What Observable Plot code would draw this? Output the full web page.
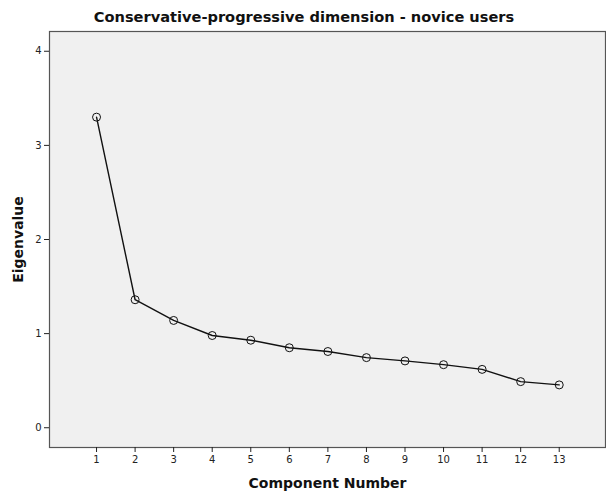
<!DOCTYPE html>
<html><head><meta charset="utf-8">
<script src="https://cdn.jsdelivr.net/npm/d3@7"></script>
<script src="https://cdn.jsdelivr.net/npm/@observablehq/plot@0.6"></script>
<style>
body{margin:0;background:#fff;font-family:"DejaVu Sans",sans-serif;}
#title{height:26px;line-height:34px;text-align:center;font-weight:bold;font-size:14.6px;color:#111;padding-left:2px;overflow:hidden;}
</style></head>
<body>
<div id="title">Conservative-progressive dimension - novice users</div>
<div id="chart"></div>
<script>
const components = [1,2,3,4,5,6,7,8,9,10,11,12,13];
const eigenvalues = [3.30,1.36,1.14,0.98,0.93,0.85,0.81,0.745,0.71,0.67,0.62,0.49,0.455];
const xTicks = [1,2,3,4,5,6,7,8,9,10,11,12,13];
const yTicks = [0,1,2,3,4];
const data = components.map((c,i)=>({c, v: eigenvalues[i]}));
const chart = Plot.plot({
  width: 606, height: 469,
  marginTop: 5, marginBottom: 48, marginLeft: 49, marginRight: 1,
  style: {fontFamily: '"DejaVu Sans", sans-serif', fontSize: "10px", color: "#222", background: "transparent"},
  x: {domain: [-0.22, 14.2]},
  y: {domain: [-0.21, 4.21]},
  marks: [
    Plot.frame({fill: "#f0f0f0", stroke: "#555", strokeWidth: 1.2}),
    Plot.axisX({ticks: xTicks, tickFormat: "d", tickSize: 5, tickPadding: 3, label: "Component Number", labelAnchor: "center", labelArrow: "none", labelOffset: 40, fontSize: 10}),
    Plot.axisY({ticks: yTicks, tickFormat: "d", tickSize: 5, tickPadding: 3, label: "Eigenvalue", labelAnchor: "center", labelArrow: "none", labelOffset: 36, fontSize: 10}),
    Plot.line(data, {x: "c", y: "v", stroke: "#111", strokeWidth: 1.4}),
    Plot.dot(data, {x: "c", y: "v", r: 4, stroke: "#111", fill: "none", strokeWidth: 1})
  ]
});
d3.select(chart).selectAll("g[aria-label='x-axis label'] text, g[aria-label='y-axis label'] text")
  .style("font-size","14px").style("font-weight","bold").style("fill","#111");
document.getElementById("chart").appendChild(chart);
</script>
</body></html>
